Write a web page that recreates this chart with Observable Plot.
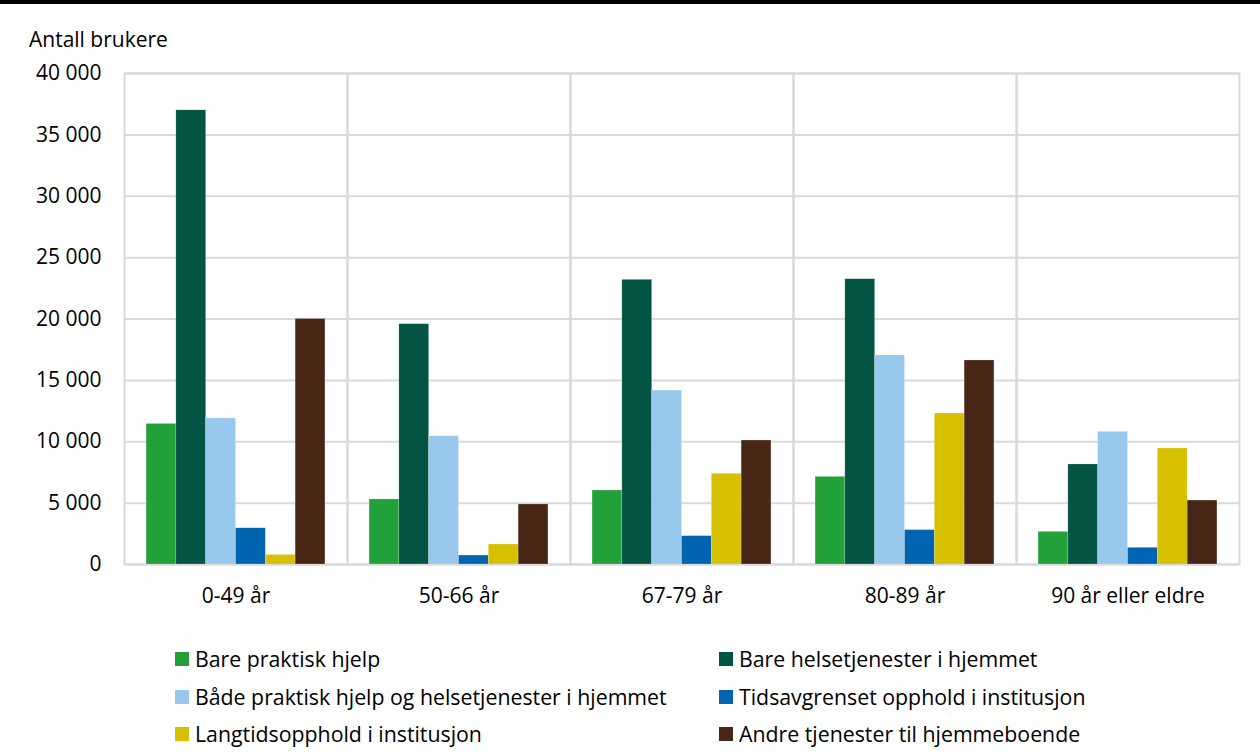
<!DOCTYPE html>
<html><head><meta charset="utf-8">
<script src="https://cdn.jsdelivr.net/npm/d3@7"></script>
<script src="https://cdn.jsdelivr.net/npm/@observablehq/plot@0.6"></script>
<style>
body{margin:0;background:#fff;font-family:"Open Sans",sans-serif;color:#000;}
#wrap{position:relative;width:1260px;height:754px;overflow:hidden;}
#topline{position:absolute;left:0;top:0;width:1260px;height:4px;background:#000;}
#ylabel{position:absolute;left:29px;top:26px;font-size:21px;line-height:26px;}
#chart{position:absolute;left:0;top:0;}
.leg{position:absolute;font-size:21.3px;line-height:26px;white-space:nowrap;display:flex;align-items:center;}
.sw{display:inline-block;width:14px;height:14px;margin-right:6px;}
</style>
</head><body>
<div id="wrap">
  <div id="chart"></div>
  <div id="topline"></div>
  <div id="ylabel">Antall brukere</div>
  <div id="legend"></div>
</div>
<script>
const groups = ["0-49 år", "50-66 år", "67-79 år", "80-89 år", "90 år eller eldre"];
const series = [
  "Bare praktisk hjelp",
  "Bare helsetjenester i hjemmet",
  "Både praktisk hjelp og helsetjenester i hjemmet",
  "Tidsavgrenset opphold i institusjon",
  "Langtidsopphold i institusjon",
  "Andre tjenester til hjemmeboende"
];
const colors = ["#22a039", "#045444", "#98c8eb", "#0064b0", "#d6c000", "#482615"];
const barePraktisk   = [11450, 5300, 6030, 7140, 2660];
const bareHelse      = [37000, 19580, 23190, 23240, 8150];
const baade          = [11900, 10450, 14170, 17030, 10810];
const tidsavgrenset  = [2950, 730, 2310, 2800, 1360];
const langtids       = [780, 1630, 7390, 12300, 9450];
const andre          = [20000, 4890, 10100, 16620, 5210];
const yTicks = [0, 5000, 10000, 15000, 20000, 25000, 30000, 35000, 40000];

const seriesValues = [barePraktisk, bareHelse, baade, tidsavgrenset, langtids, andre];
const table = [];
groups.forEach((g, gi) => series.forEach((s, si) => table.push({group: g, series: s, value: seriesValues[si][gi]})));

const fmt = d => d3.format(",")(d).replace(/,/g, " ");

const chart = Plot.plot({
  width: 1260,
  height: 640,
  marginTop: 73,
  marginLeft: 123,
  marginRight: 20,
  marginBottom: 76,
  style: {fontFamily: "'Open Sans', sans-serif", fontSize: "21px", color: "#000", background: "#fff"},
  fx: {domain: groups, padding: 0, axis: null},
  x: {domain: series, paddingInner: 0, paddingOuter: 0.74, round: false, axis: null},
  y: {domain: [0, 40000], axis: null},
  color: {domain: series, range: colors},
  marks: [
    Plot.ruleY(yTicks, {stroke: "#d9d9d9", strokeWidth: 2}),
    Plot.frame({stroke: "#d9d9d9", strokeWidth: 2}),
    Plot.barY(table, {fx: "group", x: "series", y: "value", fill: "series", stroke: "#ffffff", strokeWidth: 0.5, strokeOpacity: 0.4}),
    Plot.axisY({ticks: yTicks, tickFormat: fmt, tickSize: 0, tickPadding: 23, fontSize: 21, label: null}),
    Plot.axisFx({anchor: "bottom", tickSize: 0, tickPadding: 24, fontSize: 21, label: null})
  ]
});
document.getElementById("chart").appendChild(chart);

const legend = document.getElementById("legend");
series.forEach((s, i) => {
  const col = i % 2, row = Math.floor(i / 2);
  const d = document.createElement("div");
  d.className = "leg";
  d.style.left = (col === 0 ? 175 : 719) + "px";
  d.style.top = (646 + row * 37.5) + "px";
  d.innerHTML = `<span class="sw" style="background:${colors[i]}"></span><span>${s}</span>`;
  legend.appendChild(d);
});
</script>
</body></html>
